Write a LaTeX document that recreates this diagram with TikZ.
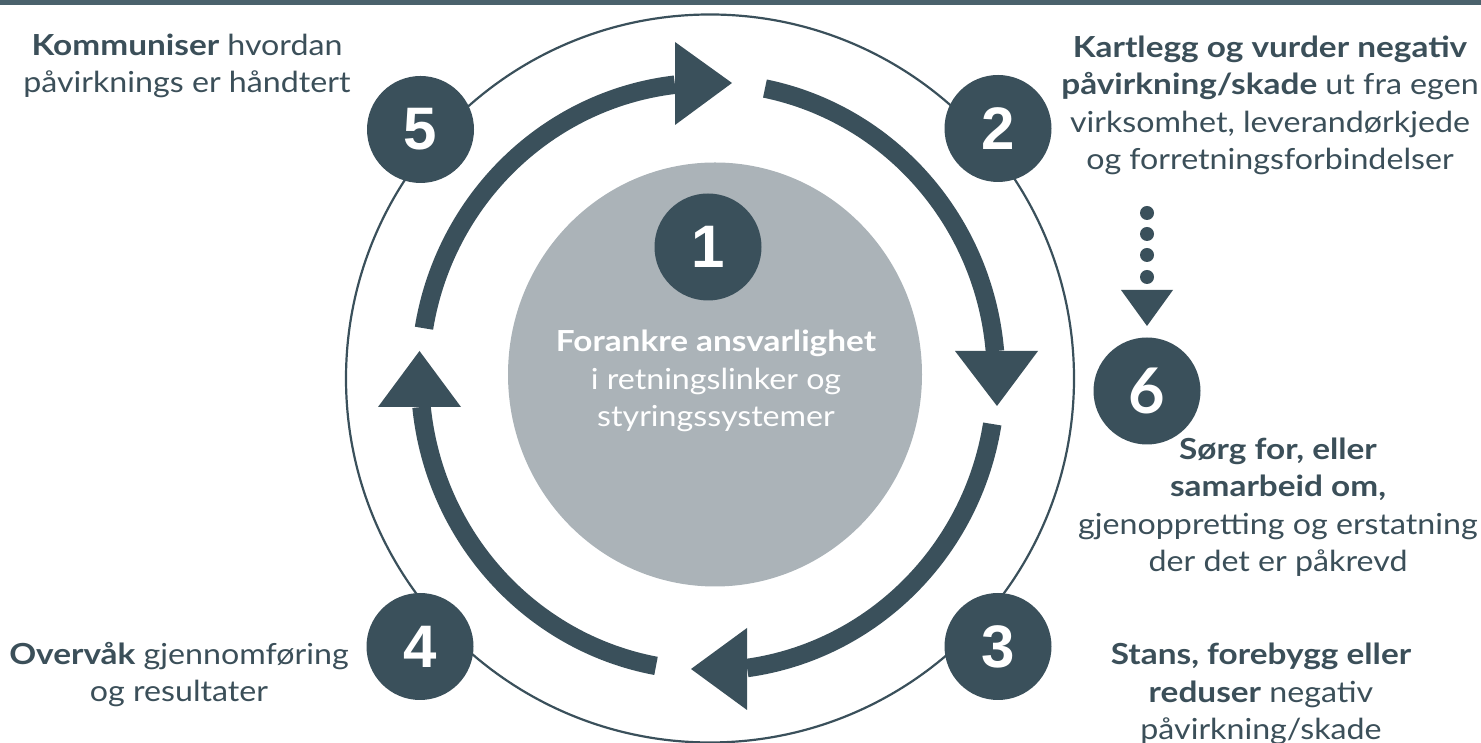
\documentclass[tikz,border=0pt]{standalone}
\usepackage{fontspec}
\setmainfont{Lato}[FakeStretch=1.11, BoldFeatures={FakeStretch=1.15}]
\newfontfamily\digitfont{Liberation Sans}
\newfontfamily\sixfont{Lato}
\definecolor{slate}{HTML}{3A505B}
\definecolor{barcol}{HTML}{4A626C}
\definecolor{graycirc}{HTML}{ABB3B8}
\definecolor{txt}{HTML}{3B4F59}
\begin{document}
\begin{tikzpicture}[x=1pt,y=1pt,
  badge/.style={circle, fill=slate, minimum size=107pt, inner sep=0pt, text=white,
    font=\digitfont\bfseries\fontsize{60}{60}\selectfont},
  shaft/.style={draw=slate, line width=18.5pt},
  head/.style={fill=slate},
  lbl/.style={align=center, text=txt, anchor=base, inner sep=0pt,
    font=\fontsize{29}{37.5}\selectfont},
]
\useasboundingbox (0,0) rectangle (1481,743);
\fill[barcol] (0,738) rectangle (1481,743);
% outer ring
\draw[slate, line width=2.2pt] (710,364.5) circle[radius=364];
% centre disc
\fill[graycirc] (715,368.5) ellipse[x radius=207, y radius=212];
% cycle arrows
\coordinate (C) at (708,366.25);
\draw[shaft] ([shift={(C)}]170.5:288 and 294) arc[start angle=170.5, end angle=96.6, x radius=288, y radius=294];
\fill[head] (675,701) -- (732,660) -- (675,618) -- cycle;
\draw[shaft] ([shift={(C)}]78.6:288 and 294) arc[start angle=78.6, end angle=5, x radius=288, y radius=294];
\fill[head] (955,392) -- (1038,392) -- (997,337) -- cycle;
\draw[shaft] ([shift={(C)}]-9.25:288 and 294) arc[start angle=-9.25, end angle=-82.2, x radius=288, y radius=294];
\fill[head] (747,115) -- (747,33) -- (691,74) -- cycle;
\draw[shaft] ([shift={(C)}]-100.4:288 and 294) arc[start angle=-100.4, end angle=-174.1, x radius=288, y radius=294];
\fill[head] (378,336) -- (461,336) -- (419.5,392) -- cycle;
% badges
\node[badge] (b1) at (708,496) {1};
\node[badge] (b5) at (420.5,613.5) {5};
\node[badge] (b2) at (998,614.5) {2};
\node[badge] (b4) at (420,96.5) {4};
\node[badge] (b3) at (998,96.5) {3};
\node[badge, font=\sixfont\bfseries\fontsize{63}{63}\selectfont] (b6) at (1147,352) {6};
% dotted arrow 2 -> 6
\foreach \yy in {530,509,488,466} \fill[slate] (1147,\yy) circle[radius=7];
\fill[head] (1121,453) -- (1173,453) -- (1147,417) -- cycle;
% labels (anchor = baseline of the last line)
\node[lbl] (t5) at (187,650) {\textbf{Kommuniser} hvordan\\påvirknings er håndtert};
\node[lbl] (t2) at (1270,573) {\textbf{Kartlegg og vurder negativ}\\\textbf{påvirkning/skade} ut fra egen\\virksomhet, leverandørkjede\\og forretningsforbindelser};
\node[lbl] (t6) at (1278,171) {\textbf{Sørg for, eller}\\\textbf{samarbeid om,}\\gjenoppretting og erstatning\\der det er påkrevd};
\node[lbl] (t3) at (1261,3) {\textbf{Stans, forebygg eller}\\\textbf{reduser} negativ\\påvirkning/skade};
\node[lbl] (t4) at (179,41) {\textbf{Overvåk} gjennomføring\\og resultater};
\node[lbl, text=white] (t1) at (716,316) {\textbf{Forankre ansvarlighet}\\i retningslinker og\\styringssystemer};
\end{tikzpicture}
\end{document}
